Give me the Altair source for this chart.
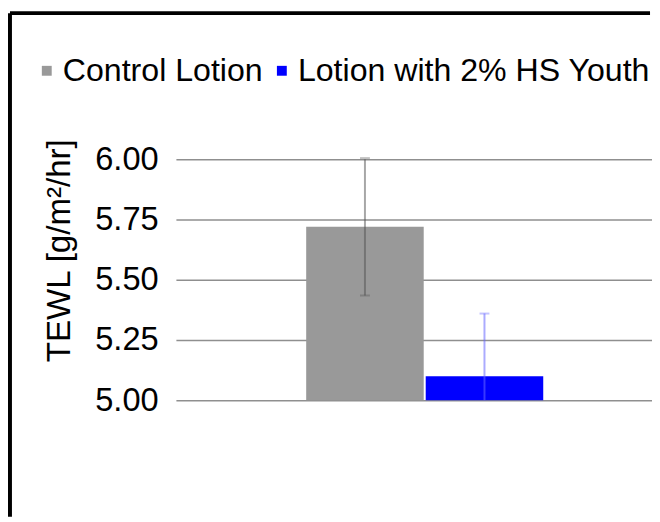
import altair as alt
import pandas as pd

series = ["Control Lotion", "Lotion with 2% HS Youth"]
means = [5.72, 5.10]
errors = [0.285, 0.26]
y_ticks = [5.00, 5.25, 5.50, 5.75, 6.00]

bar_colors = ["#999999", "#0000ff"]
err_colors = ["rgba(80,80,80,0.5)", "rgba(102,102,255,0.55)"]

df = pd.DataFrame({"series": series, "mean": means, "err": errors})
FONT = "Liberation Sans"

base = alt.Chart(df).transform_calculate(
    low="datum.mean - datum.err", high="datum.mean + datum.err"
)

xenc = alt.X(
    "series:N",
    sort=series,
    axis=None,
    scale=alt.Scale(paddingInner=0.0167, paddingOuter=1.0, align=0.545),
)
yscale = alt.Scale(domain=[5, 6], nice=False, zero=False)

bars = base.mark_bar().encode(
    x=xenc,
    y=alt.Y(
        "mean:Q",
        scale=yscale,
        title="TEWL [g/m²/hr]",
        axis=alt.Axis(
            values=y_ticks,
            format=".2f",
            domain=False,
            ticks=False,
            tickSize=0,
            labelPadding=18,
            labelFont=FONT,
            labelFontSize=33,
            labelColor="#000000",
            grid=True,
            gridColor="#8f8f8f",
            gridWidth=1.5,
            titleFont=FONT,
            titleFontSize=33.5,
            titleFontWeight="normal",
            titleColor="#000000",
            titleX=-118,
            titleY=92,
            titleAlign="center",
            titleBaseline="middle",
            titleAngle=270,
        ),
    ),
    y2=alt.datum(5),
    color=alt.Color(
        "series:N",
        sort=series,
        scale=alt.Scale(domain=series, range=bar_colors),
        legend=alt.Legend(
            title=None,
            orient="none",
            direction="horizontal",
            legendX=-150,
            legendY=-106,
            symbolType="square",
            symbolSize=100,
            symbolStrokeWidth=0,
            symbolOffset=3,
            labelFont=FONT,
            labelFontSize=32.5,
            labelColor="#000000",
            labelOffset=0,
            labelLimit=0,
            columnPadding=0,
            padding=0,
        ),
    ),
)

err_color = alt.Color(
    "series:N", sort=series, scale=alt.Scale(domain=series, range=err_colors), legend=None
)

err_rule = base.mark_rule(strokeWidth=2, clip=True).encode(
    x=xenc, y=alt.Y("low:Q", scale=yscale), y2="high:Q", color=err_color
)
cap_hi = base.mark_tick(size=10, thickness=2).encode(
    x=xenc, y=alt.Y("high:Q", scale=yscale), color=err_color
)
cap_lo = base.mark_tick(size=10, thickness=2, clip=True).encode(
    x=xenc, y=alt.Y("low:Q", scale=yscale), color=err_color
)

border_data = alt.Data(values=[{"k": 1}])
top_border = alt.Chart(border_data).mark_rule(color="#000000", strokeWidth=4).encode(
    x=alt.value(-168), x2=alt.value(480), y=alt.value(-148)
)
left_border = alt.Chart(border_data).mark_rule(color="#000000", strokeWidth=4).encode(
    x=alt.value(-168), y=alt.value(-148), y2=alt.value(362)
)

chart = (
    alt.layer(bars, err_rule, cap_hi, cap_lo, top_border, left_border)
    .resolve_scale(color="independent")
    .properties(width=482, height=244, padding=0, background="#ffffff")
    .configure_view(stroke=None)
)

chart.save("out.html", embed_options={"renderer": "svg", "actions": False})
